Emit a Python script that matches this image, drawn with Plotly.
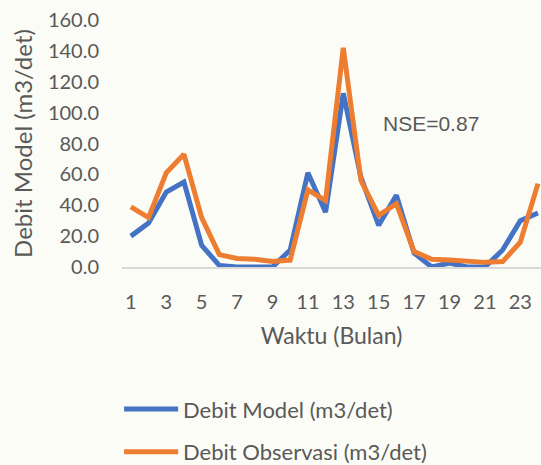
import plotly.graph_objects as go

# Monthly discharge, model vs observation
bulan = list(range(1, 25))
debit_model = [20, 28.5, 48.5, 55, 14, 1, 0, 0, 0, 11, 61, 35.5,
               112.5, 58, 27, 46.5, 9, 0, 2.5, 0, 0, 11, 30, 35]
debit_observasi = [39, 32, 61, 73, 32, 8, 5.5, 5, 3.5, 4.5, 50, 43,
                   142, 56, 33.5, 41, 10, 5, 4.5, 4, 3, 3.5, 16, 54]

nse_label = "NSE=0.87"
warna_model = "#4472C4"
warna_obs = "#ED7D31"
abu = "#595959"
huruf = "Lato"

fig = go.Figure()

fig.add_trace(go.Scatter(x=bulan, y=debit_model,
                         mode='lines',
                         name='Debit Model (m3/det)',
                         line=dict(color=warna_model, width=5),
                         showlegend=False))

fig.add_trace(go.Scatter(x=bulan, y=debit_observasi,
                         mode='lines',
                         name='Debit Observasi (m3/det)',
                         line=dict(color=warna_obs, width=5),
                         showlegend=False))

# Legend drawn by hand, to get the long Excel-style line samples
legend_items = [('Debit Model (m3/det)', warna_model, -0.575),
                ('Debit Observasi (m3/det)', warna_obs, -0.748)]
shapes = []
annotations = []
for label, warna, yy in legend_items:
    shapes.append(dict(type='line', xref='paper', yref='paper',
                       x0=0.005, x1=0.134, y0=yy, y1=yy,
                       line=dict(color=warna, width=5)))
    annotations.append(dict(text=label, xref='paper', yref='paper',
                            x=0.142, y=yy, xanchor='left', yanchor='middle',
                            showarrow=False,
                            font=dict(family=huruf, size=22, color=abu)))

annotations.append(dict(text=nse_label, x=17.95, y=93,
                        showarrow=False,
                        font=dict(family="Liberation Sans", size=21, color=abu)))

fig.update_layout(
    width=541, height=465,
    margin=dict(l=122, r=0, t=20, b=198),
    paper_bgcolor="#FCFCF7",
    plot_bgcolor="#FCFCF7",
    font=dict(family=huruf, size=20, color=abu),
    xaxis=dict(
        title=dict(text='Waktu (Bulan)', standoff=16,
                   font=dict(family=huruf, size=23, color=abu)),
        range=[0.5, 24.17],
        tickmode='array',
        tickvals=bulan[::2],
        ticktext=[str(b) for b in bulan[::2]],
        showgrid=False,
        zeroline=False,
        showline=True,
        linecolor="#D9D9D9",
        linewidth=1.5,
        ticks='',
        ticklabelstandoff=16,
    ),
    yaxis=dict(
        title=dict(text='Debit Model (m3/det)', standoff=8,
                   font=dict(family=huruf, size=24, color=abu)),
        range=[0, 160],
        dtick=20,
        tickformat='.1f',
        showgrid=False,
        zeroline=False,
        showline=False,
        ticks='',
        ticklabelstandoff=22,
    ),
    shapes=shapes,
    annotations=annotations,
)

# page body has a default margin; drop it so the figure sits at the corner
fig.write_html("out.html", config={'displayModeBar': False},
               post_script="document.body.style.margin='0';")
